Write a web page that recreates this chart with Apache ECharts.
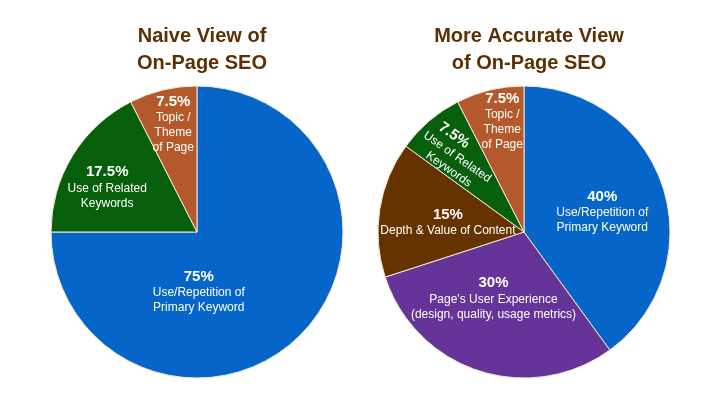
<!DOCTYPE html>
<html>
<head>
<meta charset="utf-8">
<script src="https://cdn.jsdelivr.net/npm/echarts@6/dist/echarts.min.js"></script>
<style>
  html, body { margin: 0; padding: 0; background: #fff; }
  #main { width: 711px; height: 409px; }
</style>
</head>
<body>
<div id="main"></div>
<script>
// naive view
var naiveNames = ['Use/Repetition of\nPrimary Keyword', 'Use of Related\nKeywords', 'Topic /\nTheme\nof Page'];
var naiveValues = [75, 17.5, 7.5];
// more accurate view
var accurateNames = ['Use/Repetition of\nPrimary Keyword', 'Page\'s User Experience\n(design, quality, usage metrics)',
	'Depth & Value of Content', 'Use of Related\nKeywords', 'Topic /\nTheme\nof Page'];
var accurateValues = [40, 30, 15, 7.5, 7.5];

var naiveColors = ['#0565c9', '#075f0b', '#b3592b'];
var accurateColors = ['#0565c9', '#663399', '#663300', '#075f0b', '#b3592b'];
// nudges from the default inside spot (in the label's own frame), rotation, left shift of the % line
var naiveLabelFix = [[-52, 6, 0, 0], [-25, -5, 0, 0], [-6, -34, 0, 0]];
var accurateLabelFix = [[6, 3, 0, 0], [-7, -6, 0, 0], [-1, 2, 0, 0], [-24, -5, -35, 30], [-4, -37, 0, 0]];

var myChart = echarts.init(document.getElementById('main'));
var font = 'Liberation Sans, Arial, sans-serif';

function buildData(names, values, colors, fix) {
	return values.map(function (v, i) {
		return {
			name: names[i],
			value: v,
			itemStyle: { color: colors[i] },
			label: {
				offset: [fix[i][0], fix[i][1]],
				rotate: fix[i][2],
				rich: { p: { padding: [0, fix[i][3], 0, 0] } }
			}
		};
	});
}

function pieSeries(center, data) {
	return {
		type: 'pie',
		center: center,
		radius: 146,
		startAngle: 90,
		clockwise: true,
		silent: true,
		animation: false,
		avoidLabelOverlap: false,
		labelLayout: { hideOverlap: false },
		itemStyle: { borderColor: '#f2ead2', borderWidth: 1 },
		label: {
			show: true,
			position: 'inside',
			formatter: function (p) {
				return '{p|' + p.value + '%}\n{d|' + p.name + '}';
			},
			rich: {
				p: { fontFamily: font, fontSize: 15, fontWeight: 'bold', color: '#fff', lineHeight: 17, align: 'center' },
				d: { fontFamily: font, fontSize: 12, color: '#fff', lineHeight: 15, align: 'center' }
			}
		},
		labelLine: { show: false },
		data: data
	};
}

var titleStyle = { fontFamily: font, fontSize: 20, fontWeight: 'bold', color: '#5c3005', lineHeight: 27 };

var option = {
	title: [
		{ text: 'Naive View of\nOn-Page SEO', left: 197, top: 18, textAlign: 'center', textStyle: titleStyle },
		{ text: 'More Accurate View\nof On-Page SEO', left: 524, top: 18, textAlign: 'center', textStyle: titleStyle }
	],
	series: [
		pieSeries([197, 232], buildData(naiveNames, naiveValues, naiveColors, naiveLabelFix)),
		pieSeries([524, 232], buildData(accurateNames, accurateValues, accurateColors, accurateLabelFix))
	]
};
myChart.setOption(option);
</script>
</body>
</html>
